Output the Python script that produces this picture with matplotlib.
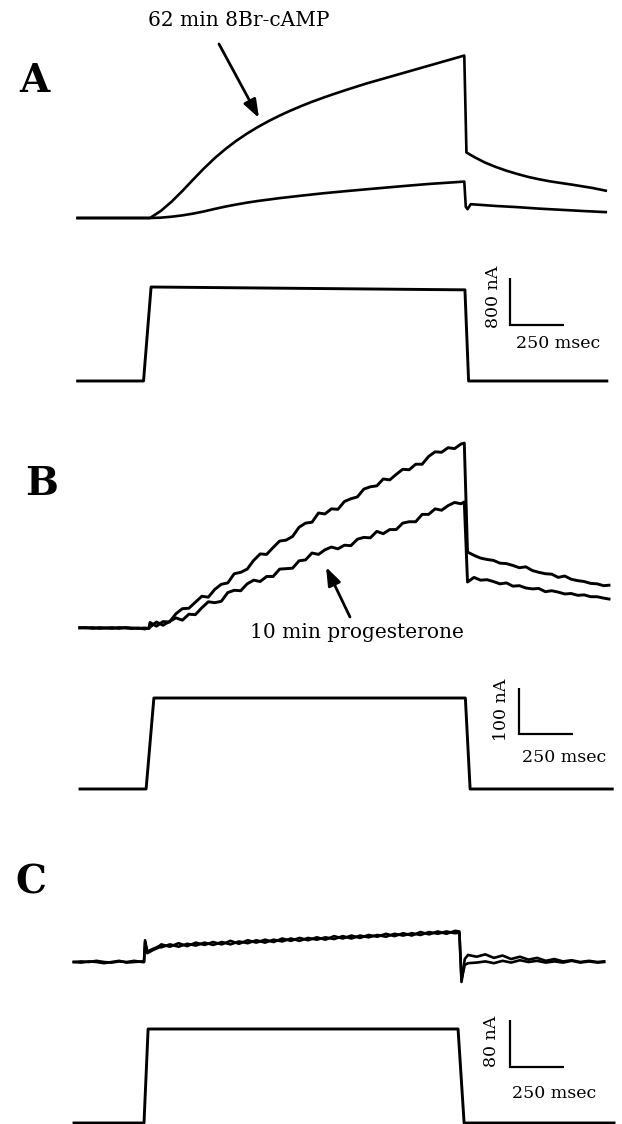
import numpy as np
import matplotlib
matplotlib.use("Agg")
import matplotlib.pyplot as plt

# ---------------- data (time in ms, current in nA, command step normalised) -------------
# Panel A (smooth traces)
A_up_t = [-335, 0, 50, 100, 150, 200, 250, 300, 350, 400, 450, 500, 550, 600, 650, 700, 750,
          800, 850, 900, 950, 1000, 1050, 1100, 1150, 1200, 1250, 1300, 1350, 1400, 1455,
          1465, 1500, 1550, 1600, 1650, 1700, 1750, 1800, 1850, 1900, 1950, 2000, 2050, 2110]
A_up_nA = [0, 0, 120, 278, 461, 655, 845, 1020, 1176, 1315, 1439, 1550, 1651, 1743, 1827,
           1905, 1978, 2045, 2109, 2170, 2229, 2287, 2340, 2392, 2445, 2497, 2550, 2602, 2655,
           2707, 2765, 1115, 1040, 945, 870, 805, 750, 700, 660, 625, 597, 570, 540, 510, 465]
A_lo_t = [-335, 0, 50, 100, 150, 200, 250, 300, 350, 400, 450, 500, 600, 700, 800, 900, 1000,
          1100, 1200, 1300, 1400, 1455, 1462, 1470, 1485, 1600, 1700, 1800, 1900, 2000, 2110]
A_lo_nA = [0, 0, 6, 22, 45, 75, 112, 155, 195, 230, 262, 290, 338, 380, 420, 455, 488, 520,
           552, 582, 606, 620, 190, 150, 235, 205, 185, 160, 140, 120, 100]
A_v_t = [-335, -30, 5, 1440, 1458, 1475, 2115]
A_v = [0, 0, 1, 0.97, 0.97, 0, 0]

# Panel B (noisy traces)
B_pre_t = [-325, -295, -265, -235, -205, -175, -145, -115, -85, -55, -25, -5]
B_up_pre = [0, 1, -1, 1, 0, -1, 1, 0, -1, 0, -2, 0]
B_lo_pre = [1, 0, 1, -1, 0, 1, -1, 1, 0, -1, 0, -1]
B_on_t = [0, 30, 60, 90, 120, 150, 180, 210, 240, 270, 300, 330, 360, 390, 420, 450, 480,
          510, 540, 570, 600, 630, 660, 690, 720, 750, 780, 810, 840, 870, 900, 930, 960,
          990, 1020, 1050, 1080, 1110, 1140, 1170, 1200, 1230, 1260, 1290, 1320, 1350, 1380,
          1410, 1440, 1455]
B_up_on = [12, 4, 14, 13, 31, 42, 43, 56, 69, 67, 84, 95, 98, 118, 121, 128, 147, 161, 160,
           175, 189, 191, 199, 219, 228, 230, 250, 248, 259, 258, 275, 281, 285, 302, 307,
           309, 324, 322, 334, 345, 344, 356, 356, 373, 383, 382, 392, 390, 400, 402]
B_lo_on = [2, 13, 6, 14, 22, 17, 30, 29, 44, 57, 55, 58, 77, 82, 81, 96, 104, 101, 112, 112,
           128, 129, 130, 146, 148, 163, 160, 170, 176, 172, 180, 179, 193, 197, 196, 210,
           205, 214, 214, 228, 231, 231, 247, 247, 259, 256, 266, 273, 270, 274]
B_off_t = [1470, 1500, 1530, 1560, 1590, 1620, 1650, 1680, 1710, 1740, 1770, 1800, 1830,
           1860, 1890, 1920, 1950, 1980, 2010, 2040, 2070, 2100, 2125]
B_up_off = [165, 158, 152, 149, 147, 141, 140, 136, 131, 133, 125, 121, 118, 117, 110, 113,
            106, 103, 101, 97, 96, 92, 93]
B_lo_off = [100, 110, 104, 105, 101, 96, 98, 91, 92, 87, 85, 86, 79, 81, 78, 74, 75, 71, 72,
            68, 68, 65, 63]
B_v_t = [-324, -18, 18, 1460, 1482, 2140]
B_v = [0, 0, 1, 1, 0, 0]

# Panel C (two nearly superimposed noisy traces)
C_pre_t = [-325, -290, -255, -220, -185, -150, -115, -80, -45, -10]
C1_pre = [0, 1, 0, 2, 0, -1, 1, 0, 2, 0]
C2_pre = [0, -1, 1, 0, -2, 0, 2, -1, 0, 1]
C_onset_t = [0, 5, 15, 40, 70]
C1_onset = [0, 37, 18, 22, 27]
C2_onset = [0, 34, 15, 20, 25]
C_on_t = [80, 120, 160, 200, 240, 280, 320, 360, 400, 440, 480, 520, 560, 600, 640, 680, 720,
          760, 800, 840, 880, 920, 960, 1000, 1040, 1080, 1120, 1160, 1200, 1240, 1280, 1320,
          1360, 1400, 1440, 1460]
C1_on = [30, 26, 32, 27, 33, 29, 34, 30, 36, 31, 37, 33, 38, 34, 40, 36, 41, 37, 42, 38, 44,
         40, 45, 41, 46, 43, 48, 44, 49, 45, 51, 47, 52, 48, 53, 52]
C2_on = [25, 30, 26, 31, 28, 33, 29, 34, 30, 35, 32, 37, 33, 38, 35, 40, 36, 41, 38, 42, 39,
         44, 40, 45, 42, 46, 43, 48, 45, 49, 46, 51, 48, 52, 49, 50]
C_off_t = [1470, 1485, 1500, 1540, 1580, 1620, 1660, 1700, 1740, 1780, 1820, 1860, 1900, 1940,
           1980, 2020, 2060, 2100, 2130]
C1_off = [-34, 5, 12, 9, 13, 7, 11, 5, 9, 4, 7, 2, 5, 1, 3, 0, 2, 0, 1]
C2_off = [-30, -5, -2, -1, 1, -2, 2, -1, 3, 0, 2, -1, 1, -1, 2, -1, 1, -1, 0]
C_v_t = [-324, 0, 19, 1454, 1482, 2176]
C_v = [0, 0, 1, 1, 0, 0]

scale_ms = 250
scale_labels = ["800 nA", "100 nA", "80 nA"]
scale_nA = [800, 100, 80]
panel_labels = ["A", "B", "C"]

# ---------------- layout -------------
W, H = 622, 1124
MS_PER_PX = 250 / 54.0
SERIF = "DejaVu Serif"

fig = plt.figure(figsize=(W / 100, H / 100), dpi=100)
fig.patch.set_facecolor("white")


def panel_axes(onset_px, base_px, units_per_px):
    ax = fig.add_axes([0, 0, 1, 1])
    ax.set_xlim(-onset_px * MS_PER_PX, (W - onset_px) * MS_PER_PX)
    ax.set_ylim((base_px - H) * units_per_px, base_px * units_per_px)
    ax.axis("off")
    ax.patch.set_alpha(0)
    return ax


def scalebar(ax, onset_px, base_px, k, cx, cy, dy):
    t0 = (cx - onset_px) * MS_PER_PX
    y0 = (base_px - cy) * k
    ax.plot([t0, t0, t0 + scale_ms], [y0 + dy, y0, y0], color="k", lw=1.6,
            solid_joinstyle="miter", solid_capstyle="butt")


LW_I = 1.9
LW_V = 2.1

# Panel A
kA = 800 / 47.0
axA = panel_axes(150, 218, kA)
axA.plot(A_up_t, A_up_nA, color="k", lw=LW_I, solid_joinstyle="round")
axA.plot(A_lo_t, A_lo_nA, color="k", lw=LW_I, solid_joinstyle="round")
scalebar(axA, 150, 218, kA, 510, 325, scale_nA[0])
axAv = panel_axes(150, 381, 1 / 94.0)
axAv.plot(A_v_t, A_v, color="k", lw=LW_V)

# Panel B
kB = 100 / 46.0
axB = panel_axes(150, 628, kB)
axB.plot(B_pre_t + B_on_t + B_off_t, B_up_pre + B_up_on + B_up_off, color="k", lw=LW_I + 0.2)
axB.plot(B_pre_t + B_on_t + B_off_t, B_lo_pre + B_lo_on + B_lo_off, color="k", lw=LW_I + 0.2)
scalebar(axB, 150, 628, kB, 519, 734, scale_nA[1])
axBv = panel_axes(150, 789, 1 / 91.0)
axBv.plot(B_v_t, B_v, color="k", lw=LW_V)

# Panel C
kC = 80 / 47.0
axC = panel_axes(144, 962, kC)
axC.plot(C_pre_t + C_onset_t + C_on_t + C_off_t, C1_pre + C1_onset + C1_on + C1_off,
         color="k", lw=LW_I)
axC.plot(C_pre_t + C_onset_t + C_on_t + C_off_t, C2_pre + C2_onset + C2_on + C2_off,
         color="k", lw=LW_I)
scalebar(axC, 144, 962, kC, 510, 1067, scale_nA[2])
axCv = panel_axes(144, 1123, 1 / 94.0)
axCv.plot(C_v_t, C_v, color="k", lw=LW_V)

# ---------------- text overlay -------------
lay = fig.add_axes([0, 0, 1, 1])
lay.set_xlim(0, W)
lay.set_ylim(H, 0)
lay.axis("off")
lay.patch.set_alpha(0)

for lab, (x, y) in zip(panel_labels, [(34, 81), (42, 484), (31, 883)]):
    lay.text(x, y, lab, fontsize=28, fontweight="bold", family=SERIF,
             ha="center", va="center")

lay.text(239, 21, "62 min 8Br-cAMP", fontsize=14.5, family=SERIF, ha="center", va="center")
lay.annotate("", xy=(259, 118), xytext=(219, 44),
             arrowprops=dict(arrowstyle="-|>,head_length=1.1,head_width=0.4", lw=2,
                             color="k", shrinkA=0, shrinkB=0))
lay.text(357, 632, "10 min progesterone", fontsize=14.5, family=SERIF, ha="center", va="center")
lay.annotate("", xy=(326, 567), xytext=(350, 617),
             arrowprops=dict(arrowstyle="-|>,head_length=1.1,head_width=0.4", lw=2,
                             color="k", shrinkA=0, shrinkB=0))

for lab, (vx, vy), (hx, hy) in zip(scale_labels,
                                    [(494, 297), (501, 710), (492, 1041)],
                                    [(558, 343), (564, 757), (554, 1093)]):
    lay.text(vx, vy, lab, fontsize=12.5, family=SERIF, rotation=90, ha="center", va="center")
    lay.text(hx, hy, "250 msec", fontsize=12.5, family=SERIF, ha="center", va="center")

fig.savefig("out.png", dpi=100, facecolor="white")
